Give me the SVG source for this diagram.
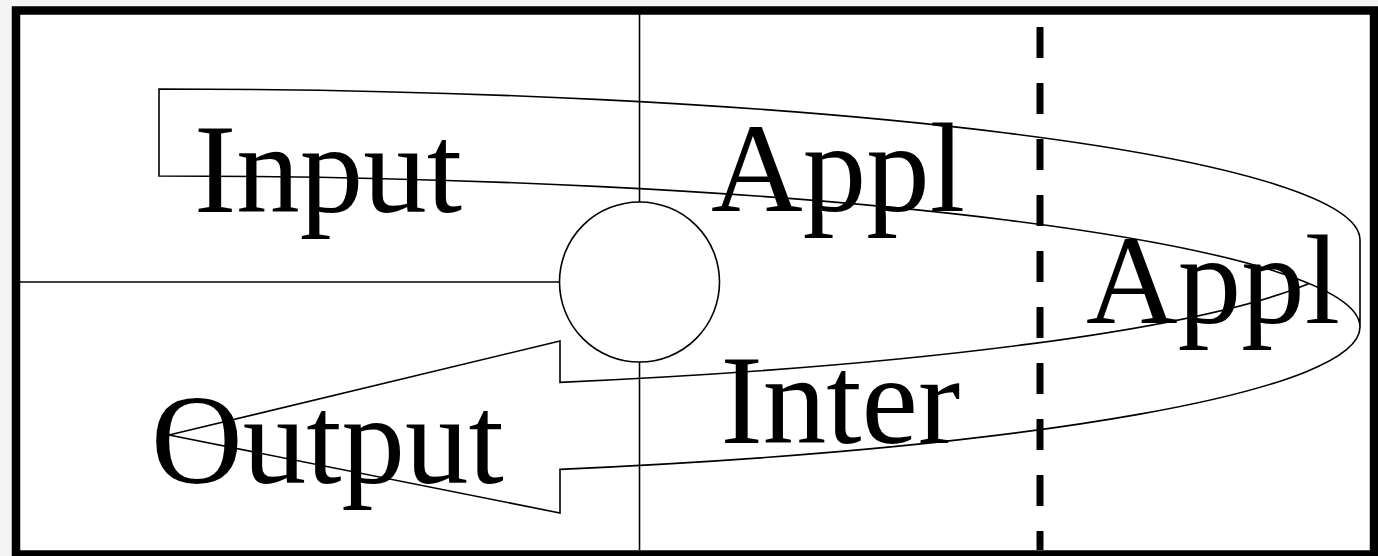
<svg xmlns="http://www.w3.org/2000/svg" width="1378" height="556" viewBox="0 0 1378 556">
  <style>
    .ln { fill: none; stroke: #000; stroke-width: 1.6; }
    .lbl { font-family: "Liberation Serif", "Times New Roman", serif; font-size: 127px; fill: #000; }
  </style>
  <rect x="0" y="0" width="1378" height="556" fill="#f3f3f3"/>
  <g id="frame">
    <rect x="16" y="10.5" width="1358" height="544" fill="#fff" stroke="#000" stroke-width="8.5"/>
  </g>
  <g id="connectors">
    <line class="ln" x1="639.5" y1="14" x2="639.5" y2="202"/>
    <line class="ln" x1="639.5" y1="362" x2="639.5" y2="550"/>
    <line class="ln" x1="20" y1="282" x2="559.5" y2="282"/>
    <line x1="1040" y1="27" x2="1040" y2="550" stroke="#000" stroke-width="7" stroke-dasharray="31 25"/>
  </g>
  <g id="circle">
    <circle class="ln" cx="639.5" cy="282" r="80"/>
  </g>
  <g id="curved-arrow">
    <path class="ln" d="M1360,327 L1360,240 A1201,151 0 0 0 159,89 L159,176 A1201,151 0 0 1 1360,327 A1201,151 0 0 1 560,469.33 L560,513 L169,435 L560,341 L560,382.33 A1201,151 0 0 0 1309.08,283.5"/>
  </g>
  <g id="labels">
    <text class="lbl" x="194" y="211.5">Input</text>
    <text class="lbl" x="711" y="211">Appl</text>
    <text class="lbl" x="1086" y="323">Appl</text>
    <text class="lbl" x="720.5" y="443">Inter</text>
    <text class="lbl" x="151" y="483">Output</text>
  </g>
</svg>
